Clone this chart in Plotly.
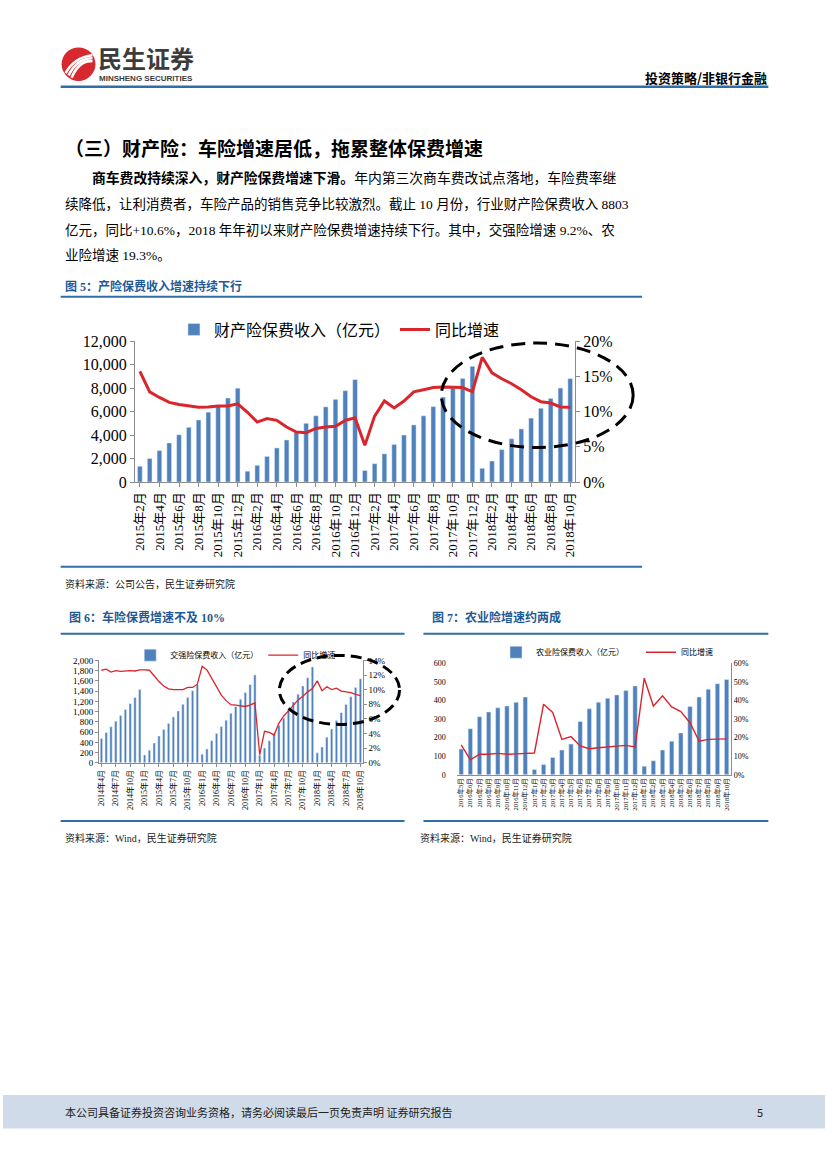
import plotly.graph_objects as go

W, H = 827, 1169
def px(x): return x / W
def py(y): return 1 - y / H

SERIF = "Liberation Serif, Noto Sans CJK SC"
CJK = "Noto Sans CJK SC"
BAR = "#4f81bd"
RED = "#d9262c"
BLUE_LINE = "#2f6ea8"

# ---------------- data: figure 5 ----------------
main_months = ([f"2015年{m}月" for m in range(2, 13)] + [f"2016年{m}月" for m in range(1, 13)] +
               [f"2017年{m}月" for m in range(1, 13)] + [f"2018年{m}月" for m in range(1, 11)])
main_premium = [1340, 2000, 2680, 3320, 4020, 4660, 5280, 5950, 6450, 7150, 7990,
                920, 1420, 2180, 2900, 3580, 4220, 5000, 5640, 6400, 7040, 7780, 8720,
                980, 1560, 2400, 3200, 4000, 4860, 5640, 6420, 7230, 8000, 8820, 9850,
                1170, 1790, 2760, 3680, 4520, 5440, 6280, 7120, 8000, 8803]
main_yoy = [15.7, 12.8, 12.0, 11.3, 11.0, 10.8, 10.6, 10.65, 10.8, 10.8, 11.1,
            9.9, 8.5, 9.0, 8.75, 7.8, 7.1, 7.0, 7.6, 7.8, 7.9, 8.75, 9.1,
            5.2, 9.35, 11.5, 10.5, 11.5, 12.8, 13.1, 13.4, 13.5, 13.5, 13.4, 12.8,
            17.7, 15.5, 14.65, 13.95, 13.1, 12.1, 11.4, 11.2, 10.65, 10.6]
main_ticks = main_months[0::2]

# ---------------- data: figure 6 ----------------
f6_months = ([f"2014年{m}月" for m in range(4, 13)] + [f"2015年{m}月" for m in range(1, 13)] +
             [f"2016年{m}月" for m in range(1, 13)] + [f"2017年{m}月" for m in range(1, 13)] +
             [f"2018年{m}月" for m in range(1, 11)])
f6_premium = [477, 593, 703, 813, 922, 1039, 1155, 1277, 1432,
              155, 245, 387, 523, 652, 768, 897, 1013, 1142, 1277, 1406, 1529,
              168, 271, 432, 574, 710, 832, 968, 1097, 1239, 1374, 1529, 1716,
              150, 290, 430, 580, 730, 870, 1030, 1190, 1340, 1500, 1660, 1870,
              195, 310, 500, 660, 826, 980, 1140, 1290, 1470, 1640]
f6_yoy = [12.65, 12.8, 12.4, 12.6, 12.5, 12.6, 12.6, 12.55, 12.7,
          12.7, 12.65, 11.9, 11.1, 10.5, 10.1, 10.0, 9.95, 10.0, 10.3, 10.3, 10.75,
          13.2, 12.7, 11.5, 10.4, 9.25, 8.5, 7.95, 7.9, 7.77, 7.7, 7.9, 8.2,
          1.1, 4.3, 4.15, 3.8, 5.4, 6.4, 7.1, 7.8, 8.6, 9.1, 9.7, 10.15,
          11.2, 9.85, 10.4, 10.0, 10.2, 9.8, 9.7, 9.6, 9.35, 9.2]
f6_ticks = f6_months[0::3]

# ---------------- data: figure 7 ----------------
f7_months = ([f"2016年{m}月" for m in range(5, 13)] + [f"2017年{m}月" for m in range(1, 13)] +
             [f"2018年{m}月" for m in range(1, 11)])
f7_premium = [138, 248, 312, 338, 360, 370, 390, 418,
              28, 55, 93, 133, 165, 287, 355, 390, 412, 430, 453, 478,
              45, 75, 133, 180, 225, 368, 418, 460, 490, 513]
f7_yoy = [16, 8, 11, 11, 11.5, 11, 11.2, 11.5,
          11.7, 38, 33.5, 19, 20.5, 15.5, 14, 14.5, 15, 15.5, 15.8, 15,
          52, 37, 42.5, 36.5, 34, 28, 18, 19, 19, 19.3]

fig = go.Figure()

# figure 5 traces
fig.add_trace(go.Bar(x=main_months, y=main_premium, name="财产险保费收入（亿元）",
                     marker_color=BAR, xaxis="x", yaxis="y", legend="legend"))
fig.add_trace(go.Scatter(x=main_months, y=[v / 100 for v in main_yoy], name="同比增速",
                         mode="lines", line=dict(color=RED, width=3),
                         xaxis="x", yaxis="y2", legend="legend"))
# figure 6 traces
fig.add_trace(go.Bar(x=f6_months, y=f6_premium, name="交强险保费收入（亿元）",
                     marker_color=BAR, xaxis="x3", yaxis="y3", legend="legend2"))
fig.add_trace(go.Scatter(x=f6_months, y=[v / 100 for v in f6_yoy], name="同比增速",
                         mode="lines", line=dict(color=RED, width=1.3),
                         xaxis="x3", yaxis="y4", legend="legend2"))
# figure 7 traces
fig.add_trace(go.Bar(x=f7_months, y=f7_premium, name="农业险保费收入（亿元）",
                     marker_color=BAR, xaxis="x5", yaxis="y5", legend="legend3"))
fig.add_trace(go.Scatter(x=f7_months, y=[v / 100 for v in f7_yoy], name="同比增速",
                         mode="lines", line=dict(color=RED, width=1.4),
                         xaxis="x5", yaxis="y6", legend="legend3"))

axcol = "#8c8c8c"
common_x = dict(type="category", showline=True, linecolor=axcol, ticks="outside",
                ticklen=4, tickcolor=axcol, tickangle=-90, showgrid=False)
common_y = dict(showline=True, linecolor=axcol, ticks="outside", ticklen=4,
                tickcolor=axcol, showgrid=False, zeroline=False)

fig.update_layout(
    width=W, height=H, margin=dict(l=0, r=0, t=0, b=0),
    paper_bgcolor="white", plot_bgcolor="white", bargap=0.52,
    showlegend=True,
    xaxis=dict(common_x, domain=[px(132.8), px(575.6)], anchor="y",
               tickvals=main_ticks, tickfont=dict(family=SERIF, size=13, color="#000")),
    yaxis=dict(common_y, domain=[py(481), py(338)], anchor="x", range=[0, 12000],
               dtick=2000, tickformat=",", tickfont=dict(family=SERIF, size=16, color="#000")),
    yaxis2=dict(common_y, overlaying="y", anchor="x", side="right", range=[0, 0.2],
                dtick=0.05, tickformat=".0%", tickfont=dict(family=SERIF, size=16, color="#000")),
    xaxis3=dict(common_x, domain=[px(96.6), px(362)], anchor="y3", tickvals=f6_ticks,
                tickfont=dict(family=SERIF, size=8, color="#000"), ticklen=3),
    yaxis3=dict(common_y, domain=[py(766), py(662)], anchor="x3", range=[0, 2000], dtick=200,
                tickformat=",", ticklen=3, tickfont=dict(family=SERIF, size=9, color="#000")),
    yaxis4=dict(common_y, overlaying="y3", anchor="x3", side="right", range=[0, 0.14],
                dtick=0.02, tickformat=".0%", ticklen=3,
                tickfont=dict(family=SERIF, size=9, color="#000")),
    xaxis5=dict(common_x, domain=[px(456.4), px(732.6)], anchor="y5", ticks="",
                tickfont=dict(family=SERIF, size=6.5, color="#000")),
    yaxis5=dict(common_y, domain=[py(778), py(665)], anchor="x5", range=[0, 600], dtick=100,
                showline=False, ticks="", ticklabelstandoff=10,
                tickfont=dict(family=SERIF, size=8, color="#000")),
    yaxis6=dict(common_y, overlaying="y5", anchor="x5", side="right", range=[0, 0.6],
                dtick=0.1, tickformat=".0%", ticks="",
                tickfont=dict(family=SERIF, size=8, color="#000")),
    legend=dict(orientation="h", x=px(172), y=py(309), xanchor="left", yanchor="top",
                itemwidth=30, font=dict(family=CJK, size=16, color="#000"),
                bgcolor="rgba(0,0,0,0)"),
    legend2=dict(orientation="h", x=px(128), y=py(642), xanchor="left", yanchor="top",
                 itemwidth=30, font=dict(family=CJK, size=8, color="#000"),
                 bgcolor="rgba(0,0,0,0)"),
    legend3=dict(orientation="h", x=px(496), y=py(639), xanchor="left", yanchor="top",
                 itemwidth=30, font=dict(family=CJK, size=8, color="#000"),
                 bgcolor="rgba(0,0,0,0)", entrywidth=100),
)

shapes = []
def hline(x0, x1, y, color=BLUE_LINE, w=2.5):
    shapes.append(dict(type="line", xref="paper", yref="paper", x0=px(x0), x1=px(x1),
                       y0=py(y), y1=py(y), line=dict(color=color, width=w)))

hline(58, 770, 80, w=2.5)          # header
hline(58, 643, 293, w=2)           # fig 5 title
hline(58, 643, 567, w=2)           # fig 5 bottom
hline(58, 404, 635, w=2)           # fig 6 title
hline(423, 770, 635, w=2)          # fig 7 title
hline(58, 404, 825, w=2)           # fig 6 bottom
hline(423, 770, 825, w=2)          # fig 7 bottom

# footer band
shapes.append(dict(type="rect", xref="paper", yref="paper", x0=0, x1=1, y0=py(1137), y1=py(1103),
                   fillcolor="#cfdbe8", line=dict(width=0), layer="below"))

# dashed ellipses
shapes.append(dict(type="circle", xref="paper", yref="paper", x0=px(441), x1=px(634),
                   y0=py(446), y1=py(340), line=dict(color="#000", width=3, dash="14px,8px")))
shapes.append(dict(type="circle", xref="paper", yref="paper", x0=px(278), x1=px(399),
                   y0=py(727), y1=py(657), line=dict(color="#000", width=3, dash="11px,6px")))

# logo: red disc with white swooshes
shapes.append(dict(type="circle", xref="paper", yref="paper", x0=px(59), x1=px(93),
                   y0=py(74), y1=py(40), fillcolor="#d7282f", line=dict(width=0)))
def pth(pts):
    s = f"M {px(pts[0][0])},{py(pts[0][1])}"
    for a, b in zip(pts[1::2], pts[2::2]):
        s += f" Q {px(a[0])},{py(a[1])} {px(b[0])},{py(b[1])}"
    return s
for off in (0, 6, 12):
    shapes.append(dict(type="path", xref="paper", yref="paper",
                       path=pth([(63 + off * 0.5, 66 + off * 0.4), (72 + off * 0.4, 50 + off * 0.2),
                                 (90, 48 + off * 0.5)]),
                       line=dict(color="white", width=2.6)))
fig.update_layout(shapes=shapes)

ann = []
def text(x, y, s, size, color="#000", family=CJK, anchor="left"):
    ann.append(dict(x=px(x), y=py(y), xref="paper", yref="paper", text=s, showarrow=False,
                    xanchor=anchor, yanchor="middle", font=dict(family=family, size=size, color=color)))

text(94, 50, "<b>民生证券</b>", 24, "#3c3c3c")
text(95, 72, "<b>MINSHENG SECURITIES</b>", 8, "#3c3c3c", "Liberation Sans Narrow, Liberation Sans")
text(771, 71, "<b>投资策略/非银行金融</b>", 13, "#000", anchor="right")

text(60, 142, "<b>（三）财产险：车险增速居低，拖累整体保费增速</b>", 19)
text(88, 173, "<b>商车费改持续深入，财产险保费增速下滑。</b>年内第三次商车费改试点落地，车险费率继", 13.8, family=SERIF)
text(60, 199, "续降低，让利消费者，车险产品的销售竞争比较激烈。截止 10 月份，行业财产险保费收入 8803", 13.5, family=SERIF)
text(60, 225, "亿元，同比+10.6%，2018 年年初以来财产险保费增速持续下行。其中，交强险增速 9.2%、农", 13.5, family=SERIF)
text(60, 251, "业险增速 19.3%。", 13.5, family=SERIF)

text(60, 283, "<b>图 5：产险保费收入增速持续下行</b>", 12, "#1f5a96", SERIF)
text(60, 585, "资料来源：公司公告，民生证券研究院", 10, "#222", SERIF)
text(64, 619, "<b>图 6：车险保费增速不及 10%</b>", 12, "#1f5a96", SERIF)
text(430, 619, "<b>图 7：农业险增速约两成</b>", 12, "#1f5a96", SERIF)
text(60, 842, "资料来源：Wind，民生证券研究院", 10, "#222", SERIF)
text(418, 842, "资料来源：Wind，民生证券研究院", 10, "#222", SERIF)

text(60, 1120, "本公司具备证券投资咨询业务资格，请务必阅读最后一页免责声明 证券研究报告", 11, "#222")
text(767, 1120, "5", 11, "#222", anchor="right")
fig.update_layout(annotations=ann)

fig.write_html("out.html", config={"displayModeBar": False},
               post_script="document.body.style.margin='0';")
